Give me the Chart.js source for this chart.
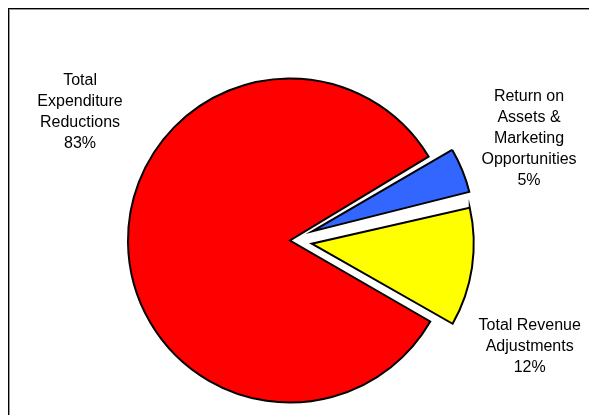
<!DOCTYPE html>
<html>
<head>
<meta charset="utf-8">
<script src="https://cdn.jsdelivr.net/npm/chart.js@4/dist/chart.umd.min.js"></script>
<style>
  html, body { margin: 0; padding: 0; background: #fff; overflow: hidden; width: 589px; height: 415px; }
  #frame { position: absolute; left: 8px; top: 8px; width: 700px; height: 600px;
           border-left: 1px solid #000; border-top: 1px solid #000;
           box-shadow: inset 1px 1px 0 #9a9a9a; }
  #wrap { position: absolute; left: 0; top: 0; width: 589px; height: 415px; }
</style>
</head>
<body>
<div id="frame"></div>
<div id="wrap"><canvas id="c" width="589" height="415"></canvas></div>
<script>
// ---- data ----
const categories = [
  ['Total', 'Expenditure', 'Reductions'],
  ['Return on', 'Assets &', 'Marketing', 'Opportunities'],
  ['Total Revenue', 'Adjustments']
];
const values = [83, 5, 12];
const sliceColors = ['#FF0000', '#3366FF', '#FFFF00'];
const explode = [0, 96, 88];

// label placement: polar position relative to pie centre (degrees, multiples of radius)
const labelPlacement = [
  { angle: -148.5, dist: 1.52 },
  { angle: -23.1, dist: 1.604 },
  { angle: 23.8, dist: 1.617 }
];

const PIE_R = 162;

// keep exploded slices at the same radius as the main slice
const radiusFix = {
  id: 'radiusFix',
  beforeDatasetsDraw(chart) {
    const meta = chart.getDatasetMeta(0);
    const base = meta.controller.outerRadius;
    meta.data.forEach((arc, i) => {
      const o = (explode[i] || 0) / 4;
      const fix = 1 - Math.sin(Math.min(Math.PI, arc.circumference || 0));
      arc.outerRadius = base - o * fix;
    });
  }
};

const sliceLabels = {
  id: 'sliceLabels',
  afterDatasetsDraw(chart) {
    const ctx = chart.ctx;
    const meta = chart.getDatasetMeta(0);
    const cx = meta.data[0].x, cy = meta.data[0].y;
    const R = meta.controller.outerRadius;
    ctx.save();
    ctx.font = '16px "Liberation Sans", Arial, sans-serif';
    ctx.fillStyle = '#000';
    ctx.textAlign = 'center';
    ctx.textBaseline = 'middle';
    const lh = 21;
    categories.forEach((lines, i) => {
      const all = lines.concat([values[i] + '%']);
      const p = labelPlacement[i];
      const a = p.angle * Math.PI / 180;
      const x = cx + Math.cos(a) * p.dist * R;
      const y = cy + Math.sin(a) * p.dist * R;
      all.forEach((t, j) => {
        ctx.fillText(t, x, y + (j - (all.length - 1) / 2) * lh);
      });
    });
    ctx.restore();
  }
};

new Chart(document.getElementById('c'), {
  type: 'pie',
  data: {
    labels: categories.map(l => l.join(' ')),
    datasets: [{
      data: values,
      backgroundColor: sliceColors,
      borderColor: '#000',
      borderWidth: 2,
      borderJoinStyle: 'miter',
      offset: explode,
      hoverOffset: 0
    }]
  },
  options: {
    responsive: false,
    animation: false,
    rotation: 120,
    radius: PIE_R,
    layout: { padding: { left: 0, right: 9, top: 66, bottom: 0 } },
    plugins: {
      legend: { display: false },
      tooltip: { enabled: false },
      title: { display: false }
    },
    events: []
  },
  plugins: [radiusFix, sliceLabels]
});
</script>
</body>
</html>
